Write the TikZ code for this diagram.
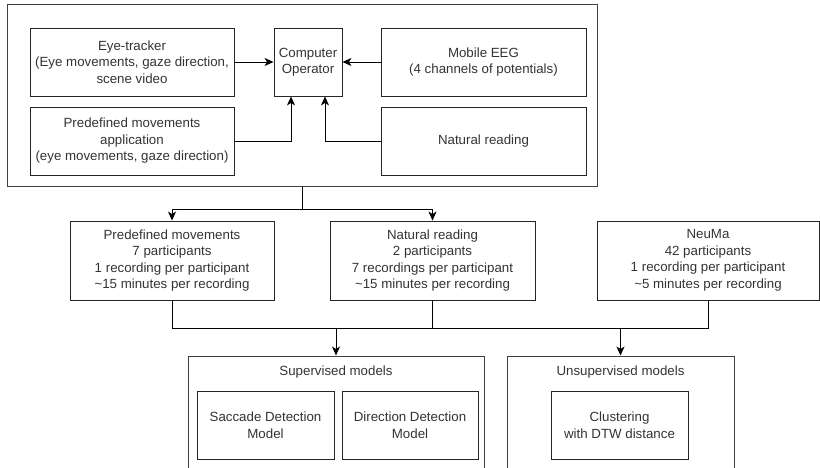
\documentclass[tikz,border=0pt]{standalone}
\usepackage{fontspec}
\setmainfont{Liberation Sans}
\usetikzlibrary{arrows.meta}
\begin{document}
\begin{tikzpicture}[x=1pt,y=-1pt]
\tikzset{
box/.style={rectangle,draw=black!85,line width=0.9pt,text=black!80,inner sep=2pt,align=center,
font=\fontsize{13.3}{16.5}\selectfont},
srcbox/.style={box,minimum width=204pt,minimum height=68pt},
databox/.style={box,minimum width=204pt,minimum height=79pt},
modelbox/.style={box,minimum width=137pt,minimum height=68pt},
groupbox/.style={rectangle,draw=black!75,line width=1pt,minimum height=130pt},
grouplabel/.style={text=black!80,font=\fontsize{13.3}{16.5}\selectfont},
myarrow/.style={-{Stealth[length=9pt,width=8pt,inset=2.5pt]},line width=0.9pt},
myline/.style={line width=0.9pt},
}
\useasboundingbox (0,0) rectangle (820,468);

\node [groupbox,minimum width=590pt,minimum height=182pt] (setup) at (302,96) {};
\node [srcbox] (eyetracker) at (132,62) {Eye-tracker\\(Eye movements, gaze direction,\\scene video};
\node [box,minimum width=68pt,minimum height=68pt] (operator) at (308,62) {Computer\\Operator};
\node [srcbox,minimum width=205pt] (eeg) at (483.5,62) {Mobile EEG\\(4 channels of potentials)};
\node [srcbox,below of=eyetracker,node distance=79pt] (predefapp) {Predefined movements\\application\\(eye movements, gaze direction)};
\node [srcbox,minimum width=205pt,below of=eeg,node distance=79pt] (readingsrc) {Natural reading};

\node [databox] (predef) at (172,260.5) {Predefined movements\\7 participants\\1 recording per participant\\\textasciitilde15 minutes per recording};
\node [databox,minimum width=205pt] (reading) at (432.5,260.5) {Natural reading\\2 participants\\7 recordings per participant\\\textasciitilde15 minutes per recording};
\node [databox,minimum width=222pt] (neuma) at (708,260.5) {NeuMa\\42 participants\\1 recording per participant\\\textasciitilde5 minutes per recording};

\node [groupbox,minimum width=296pt] (supervised) at (336,421) {};
\node [grouplabel] (suplabel) at (336,372) {Supervised models};
\node [modelbox] (saccade) at (265.5,425) {Saccade Detection\\Model};
\node [modelbox,minimum width=136pt] (direction) at (410,425) {Direction Detection\\Model};
\node [groupbox,minimum width=227pt] (unsupervised) at (620.5,421) {};
\node [grouplabel] (unsuplabel) at (620.5,372) {Unsupervised models};
\node [modelbox] (clustering) at (619.5,425) {Clustering\\with DTW distance};

\draw[myarrow] (eyetracker) -- (operator);
\draw[myarrow] (eeg) -- (operator);
\draw[myarrow] (predefapp.east) -| ([xshift=-17pt]operator.south);
\draw[myarrow] (readingsrc.west) -| ([xshift=17pt]operator.south);
\draw[myarrow] (setup.south) -- ++(0,22) coordinate (split) -| (predef.north);
\draw[myarrow] (split) -| (reading.north);
\draw[myline] (predef.south) -- ++(0,28) coordinate (merge) -| (neuma.south);
\draw[myline] (reading.south) -- (reading.south |- merge);
\draw[myarrow] (supervised.north |- merge) -- (supervised.north);
\draw[myarrow] (unsupervised.north |- merge) -- (unsupervised.north);
\end{tikzpicture}
\end{document}
